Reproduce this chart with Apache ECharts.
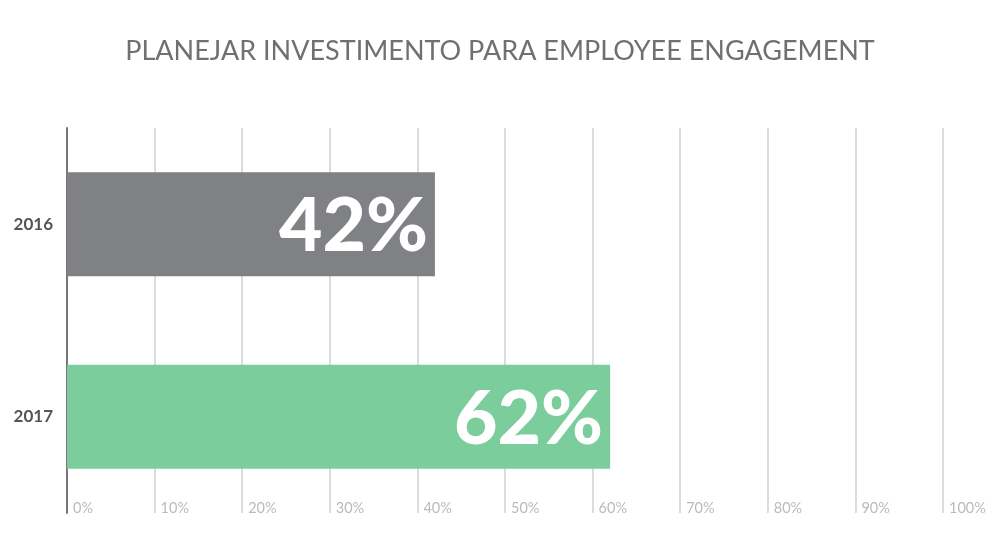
<!DOCTYPE html>
<html><head><meta charset="utf-8">
<script src="https://cdn.jsdelivr.net/npm/echarts@6/dist/echarts.min.js"></script>
<style>html,body{margin:0;padding:0;background:#fff;}#c{width:1000px;height:554px;}</style>
</head><body><div id="c"></div>
<script>
const titleText = 'PLANEJAR INVESTIMENTO PARA EMPLOYEE ENGAGEMENT';
const categories = ['2016', '2017'];
const values = [42, 62];
const barColors = ['#808184', '#7bcd9b'];
const xTicks = [0, 10, 20, 30, 40, 50, 60, 70, 80, 90, 100];

const chart = echarts.init(document.getElementById('c'));
chart.setOption({
  animation: false,
  title: {
    text: titleText, left: 'center', top: 33,
    textStyle: { fontFamily: 'Lato', fontWeight: 'normal', fontSize: 27, color: '#707070' }
  },
  grid: { left: 67, right: 57, top: 128, bottom: 41 },
  xAxis: {
    type: 'value', min: 0, max: 100, interval: 10,
    axisLine: { show: false }, axisTick: { show: false },
    splitLine: { show: true, lineStyle: { color: '#d0d0d0', width: 1.5 } },
    axisLabel: {
      formatter: v => xTicks.includes(v) ? v + '%' : '',
      color: '#bbbbbb', fontFamily: 'Lato', fontSize: 14.5,
      align: 'left', verticalAlign: 'middle', margin: -5, padding: [0, 0, 0, 6]
    }
  },
  yAxis: {
    type: 'category', data: categories, inverse: true,
    axisLine: { show: true, lineStyle: { color: '#777', width: 2 } },
    axisTick: { show: false },
    axisLabel: { color: '#555', fontFamily: 'Lato', fontWeight: 'bold', fontSize: 17, margin: 14 }
  },
  series: [{
    type: 'bar', barWidth: 104,
    data: values.map((v, i) => ({ value: v, itemStyle: { color: barColors[i] } })),
    label: {
      show: true, position: 'insideRight', offset: [-2, 3],
      formatter: p => p.value + '%',
      color: '#fff', fontFamily: 'Lato', fontWeight: 900, fontSize: 75
    }
  }]
});
</script></body></html>
